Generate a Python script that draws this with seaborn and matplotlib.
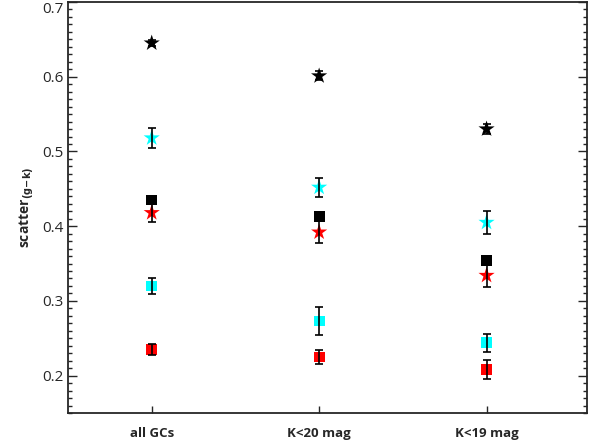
import matplotlib
matplotlib.use("Agg")
import matplotlib.pyplot as plt
import seaborn as sns
import pandas as pd
import numpy as np
from matplotlib.ticker import MultipleLocator

sns.set_theme(style="ticks")
plt.rcParams['font.family'] = ['Open Sans', 'DejaVu Sans']

categories = ["all GCs", "K<20 mag", "K<19 mag"]
series_names = ["black star", "cyan star", "black square", "red star", "cyan square", "red square"]
values = {
    "black star":   [0.645, 0.601, 0.530],
    "cyan star":    [0.518, 0.452, 0.405],
    "black square": [0.435, 0.413, 0.354],
    "red star":     [0.418, 0.392, 0.334],
    "cyan square":  [0.320, 0.273, 0.244],
    "red square":   [0.235, 0.225, 0.208],
}
errors = {
    "black star":   [0.004, 0.006, 0.007],
    "cyan star":    [0.013, 0.013, 0.015],
    "black square": [0.0, 0.0, 0.0],
    "red star":     [0.013, 0.015, 0.016],
    "cyan square":  [0.011, 0.019, 0.012],
    "red square":   [0.008, 0.009, 0.013],
}
colors = {"black star": "black", "cyan star": "cyan", "black square": "black",
          "red star": "red", "cyan square": "cyan", "red square": "red"}
markers = {"black star": "*", "cyan star": "*", "black square": "s",
           "red star": "*", "cyan square": "s", "red square": "s"}

rows = []
for s in series_names:
    for i, c in enumerate(categories):
        rows.append({"series": s, "category": c, "x": i + 1,
                     "value": values[s][i], "err": errors[s][i]})
df = pd.DataFrame(rows)

fig = plt.figure(figsize=(6.03, 4.46), dpi=100)
ax = fig.add_axes([68/603, 33/446, (587-68)/603, (444-33)/446])

for s in series_names:
    d = df[df.series == s]
    if d.err.max() > 0:
        ax.errorbar(d.x, d.value, yerr=d.err, fmt="none", ecolor="black",
                    elinewidth=1.2, capsize=3, capthick=1.2, zorder=3)

star_df = df[df.series.str.contains("star")]
sq_df = df[df.series.str.contains("square")]
sns.scatterplot(data=sq_df, x="x", y="value", hue="series", style="series",
                palette=colors, markers=markers, s=60, linewidth=0,
                legend=False, ax=ax, zorder=2)
sns.scatterplot(data=star_df, x="x", y="value", hue="series", style="series",
                palette=colors, markers=markers, s=150, linewidth=0,
                legend=False, ax=ax, zorder=2)

ax.set_xlim(0.5, 3.6)
ax.set_ylim(0.15, 0.7)
ax.set_xticks([1, 2, 3])
ax.set_xticklabels(categories, fontweight="bold", fontsize=9.5)
ax.yaxis.set_minor_locator(MultipleLocator(0.01))
ax.set_yticks([0.2, 0.3, 0.4, 0.5, 0.6, 0.7])
ax.set_yticklabels(["0.2", "0.3", "0.4", "0.5", "0.6", "0.7"], fontsize=11)
ax.get_yticklabels()[-1].set_verticalalignment("top")
ax.tick_params(axis="y", which="major", direction="in", length=6.5, width=1, right=True)
ax.tick_params(axis="y", which="minor", direction="in", length=3, width=1, right=True)
ax.tick_params(axis="x", which="major", direction="in", length=5, width=1, pad=10)
ax.set_xlabel("")
ax.set_ylabel(r"scatter$_{\mathbf{(g\!-\!k)}}$", fontweight="bold", fontsize=10)
for sp in ax.spines.values():
    sp.set_linewidth(1.3)
    sp.set_visible(True)

fig.savefig("out.png", dpi=100)
